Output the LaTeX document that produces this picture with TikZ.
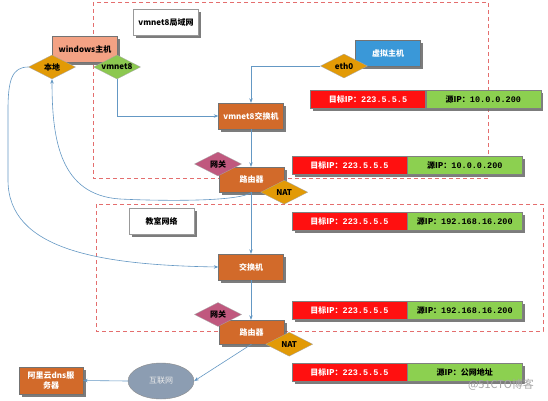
\documentclass[tikz,border=0pt]{standalone}
\usepackage{fontspec}
\setmainfont{Noto Sans CJK SC}
\newfontfamily\monof{Liberation Mono}
\usetikzlibrary{shapes.geometric,shadows,arrows.meta}
\definecolor{zonec}{RGB}{228,110,110}
\definecolor{winc}{RGB}{243,162,132}
\definecolor{goldc}{RGB}{226,154,6}
\definecolor{greenc}{RGB}{140,200,80}
\definecolor{bluec}{RGB}{58,152,216}
\definecolor{brownc}{RGB}{210,106,42}
\definecolor{pinkc}{RGB}{192,88,126}
\definecolor{netc}{RGB}{140,157,178}
\definecolor{redc}{RGB}{255,16,16}
\definecolor{pgreen}{RGB}{140,208,80}
\definecolor{linkc}{RGB}{100,152,196}
\newcommand{\dtext}[1]{\makebox[0pt]{#1}}
\newcommand{\ipnum}[1]{{\monof\bfseries\fontsize{8.5}{9}\selectfont #1}}
\begin{document}
\begin{tikzpicture}[x=1pt,y=-1pt,
  font=\fontsize{8}{9.5}\selectfont\bfseries,
  shad/.style={drop shadow={shadow xshift=2.5pt,shadow yshift=-2.5pt,fill=black!60,opacity=0.85}},
  box/.style={rectangle,draw=black!55,line width=0.4pt,minimum width=65pt,minimum height=26pt,inner sep=1pt,align=center,shad},
  label/.style={box,fill=white,draw=black!40},
  dia/.style={diamond,draw=black!35,line width=0.3pt,inner sep=0pt,minimum width=47pt,minimum height=24pt},
  pktr/.style={rectangle,draw=black!50,line width=0.3pt,fill=redc,text=white,minimum width=115pt,minimum height=18pt,inner sep=0pt,shad},
  pktg/.style={rectangle,draw=black!50,line width=0.3pt,fill=pgreen,text=black,minimum width=115pt,minimum height=18pt,inner sep=0pt,shad},
  link/.style={draw=linkc,line width=0.6pt},
  arr/.style={link,-{Stealth[length=4.5pt,width=3.5pt]}},
  zone/.style={draw=zonec,dash pattern=on 4pt off 3pt,line width=0.9pt}]
\useasboundingbox (0,0) rectangle (548,400);
\fill[white] (0,0) rectangle (548,400);

% zones
\draw[zone] (93,2) rectangle (488,178);
\draw[zone] (96,204) rectangle (543,331);

% curve waypoints
\coordinate (cA1) at (8,110);
\coordinate (cA2) at (8,180);
\coordinate (cB1) at (120,199);

% nodes
\node[label] (lan1) at (166,22.5) {vmnet8局域网};
\node[box,fill=winc] (win) at (85,49) {windows主机};
\node[dia,fill=goldc] (local) at (52,67) {\dtext{本地}};
\node[dia,fill=greenc] (vm8) at (117,67) {\dtext{vmnet8}};
\node[box,fill=bluec,text=white] (vhost) at (388,53) {虚拟主机};
\node[dia,fill=goldc] (eth0) at (344,66) {\dtext{eth0}};
\node[box,fill=brownc,text=white] (sw1) at (251,116) {vmnet8交换机};

\node[pktr] (p1r) at (368,99) {目标IP：\ipnum{223.5.5.5}};
\node[pktg,anchor=west] (p1g) at (p1r.east) {源IP：\ipnum{10.0.0.200}};

\node[box,fill=brownc,text=white,minimum height=25pt] (r1) at (251.5,179.5) {路由器};
\node[dia,fill=pinkc] (gw1) at (218,164) {\dtext{网关}};
\node[dia,fill=goldc] (nat1) at (r1.south east) {\dtext{NAT}};

\node[pktr] (p2r) at (349.5,165.5) {目标IP：\ipnum{223.5.5.5}};
\node[pktg,anchor=west] (p2g) at (p2r.east) {源IP：\ipnum{10.0.0.200}};

\node[label] (lan2) at (161.5,221) {教室网络};
\node[pktr] (p3r) at (349.5,221.5) {目标IP：\ipnum{223.5.5.5}};
\node[pktg,anchor=west] (p3g) at (p3r.east) {源IP：\ipnum{192.168.16.200}};

\node[box,fill=brownc,text=white] (sw2) at (251,267) {交换机};

\node[box,fill=brownc,text=white,minimum height=24pt] (r2) at (251.5,332) {路由器};
\node[dia,fill=pinkc] (gw2) at (218,314.5) {\dtext{网关}};
\node[dia,fill=goldc] (nat2) at ([xshift=5pt]r2.south east) {\dtext{NAT}};

\node[pktr] (p4r) at (349.5,310.5) {目标IP：\ipnum{223.5.5.5}};
\node[pktg,anchor=west] (p4g) at (p4r.east) {源IP：\ipnum{192.168.16.200}};

\node[pktr] (p5r) at (349.5,372) {目标IP：\ipnum{223.5.5.5}};
\node[pktg,anchor=west] (p5g) at (p5r.east) {源IP：公网地址};

\node[ellipse,draw=black!45,line width=0.4pt,fill=netc,text=white!92!black,minimum width=66pt,minimum height=36pt,inner sep=0pt,font=\fontsize{8}{9}\selectfont] (net) at (161,381) {互联网};
\node[box,fill=brownc,text=white,minimum width=64pt,minimum height=27pt] (dns) at (51,380.5) {阿里云dns服\\务器};

\node[text=black!35,font=\fontsize{11}{12}\selectfont] (wm) at (501,385) {@51CTO博客};

% connectors
\draw[arr] (eth0.west) -| (sw1.north);
\draw[arr] (vm8.south) |- (sw1.west);
\draw[arr] (sw1.south) -- (sw1.south |- r1.north);
\draw[arr] (r1.south -| sw1.south) -- (sw2.north);
\draw[arr] (sw2.south) -- (sw2.south |- r2.north);
\draw[arr] (r2.south) -- (net.east);
\draw[arr] (net.west) -- (dns.east);
\draw[arr] (local.west) .. controls (12,67) and (8,80) .. (cA1) -- (cA2) .. controls (8,250) and (100,265) .. (sw2.west);
\draw[arr] (r1.south) .. controls (240,202) and (160,201) .. (cB1) .. controls (60,195) and (52,140) .. (local.south);
\end{tikzpicture}
\end{document}
